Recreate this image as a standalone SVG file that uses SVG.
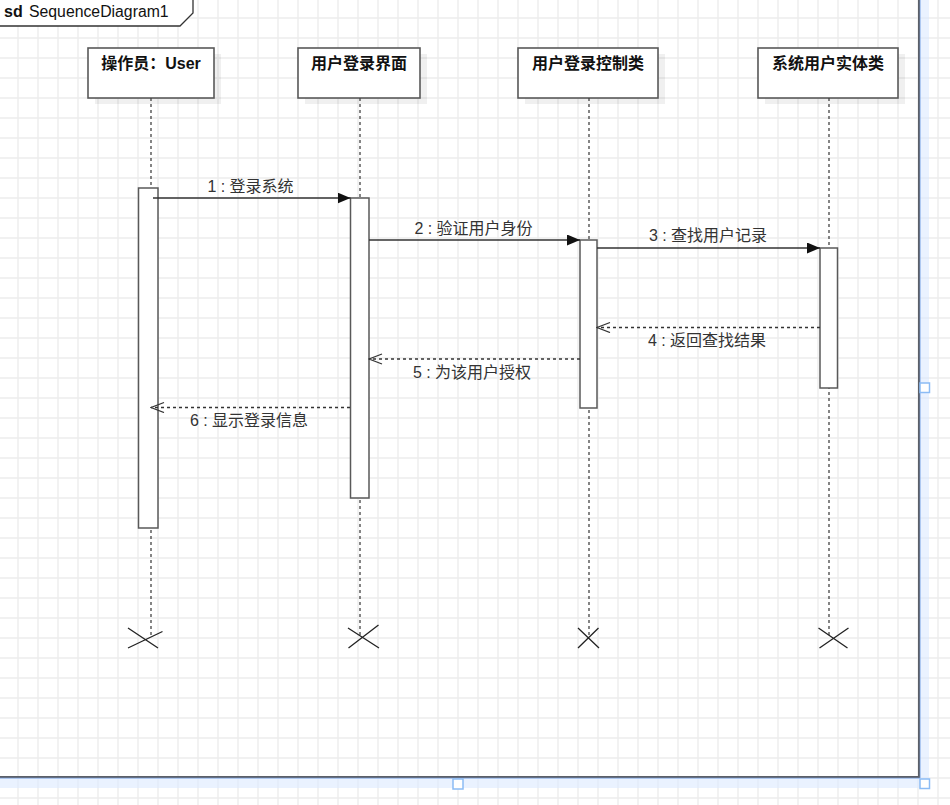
<svg xmlns="http://www.w3.org/2000/svg" width="950" height="805" viewBox="0 0 950 805">
<defs>
<style>
.head{fill:#fff;stroke:#595959;stroke-width:1.6}
.shadow{fill:#000;opacity:0.06}
.htxt{font-family:"Liberation Sans","Noto Sans CJK SC",sans-serif;font-size:16px;font-weight:bold;fill:#111;text-anchor:middle}
.life{stroke:#444;stroke-width:1.3;stroke-dasharray:3 3;fill:none}
.act{fill:#fff;stroke:#595959;stroke-width:1.5}
.xm{stroke:#222;stroke-width:1.3;fill:none}
.msg{stroke:#333;stroke-width:1.5;fill:none}
.ret{stroke:#333;stroke-width:1.3;stroke-dasharray:3 3;fill:none}
.mtxt{font-family:"Liberation Sans","Noto Sans CJK SC",sans-serif;font-size:16px;fill:#333;text-anchor:middle}
.handle{fill:#fff;stroke:#8cbcf5;stroke-width:1.5}
</style>
<pattern id="grid" x="17" y="17" width="20" height="20" patternUnits="userSpaceOnUse">
<path d="M1,0 V20 M0,1 H20" stroke="#ededed" stroke-width="1.4" fill="none"/>
</pattern>
<marker id="filled" markerUnits="userSpaceOnUse" markerWidth="14" markerHeight="12" refX="13" refY="5.5" orient="auto">
<path d="M0,0 L13,5.5 L0,11 Z" fill="#111"/>
</marker>
<marker id="open" markerUnits="userSpaceOnUse" markerWidth="15" markerHeight="12" refX="13.5" refY="5.5" orient="auto">
<path d="M0.5,0.5 L13.5,5.5 L0.5,10.5" fill="none" stroke="#333" stroke-width="1.3"/>
</marker>
</defs>
<rect width="950" height="805" fill="#fff"/>
<rect width="950" height="805" fill="url(#grid)"/>

<g id="frame">
<rect x="920" y="-5" width="9" height="793" fill="#dce9ff" opacity="0.6"/>
<rect x="-5" y="778" width="934" height="10" fill="#dce9ff" opacity="0.6"/>
<rect x="-5" y="-5" width="924" height="782" fill="none" stroke="#5b5f68" stroke-width="2"/>
<line x1="920.2" y1="-5" x2="920.2" y2="778" stroke="#7fa8e6" stroke-width="0.8"/>
<line x1="-5" y1="778.2" x2="920" y2="778.2" stroke="#7fa8e6" stroke-width="0.8"/>
<path d="M-3,-2 L193,-2 L193,13 L180,26 L-3,26 Z" fill="#fff" stroke="#333" stroke-width="1.3"/>
<text x="4" y="17" style="font-family:'Liberation Sans',sans-serif;font-size:16px;fill:#111" font-weight="bold">sd</text>
<text x="29" y="17" style="font-family:'Liberation Sans',sans-serif;font-size:15.8px;fill:#111">SequenceDiagram1</text>
<rect class="handle" x="920" y="383" width="9.5" height="9.5"/>
<rect class="handle" x="453" y="779" width="10" height="10"/>
<rect class="handle" x="920" y="779" width="9.5" height="9.5"/>
</g>

<g id="node-user">
<rect class="shadow" x="95" y="54" width="126" height="50"/>
<rect class="head" x="88" y="48" width="126" height="50"/>
<text class="htxt" x="151" y="69">操作员：User</text>
<line class="life" x1="151" y1="98" x2="151" y2="636"/>
<rect class="act" x="138.5" y="188" width="19.5" height="340"/>
<path class="xm" d="M128,628 L158,648 M162.5,631.5 L128,648"/>
</g>

<g id="node-ui">
<rect class="shadow" x="305" y="54" width="122" height="50"/>
<rect class="head" x="298" y="48" width="122" height="50"/>
<text class="htxt" x="359" y="69">用户登录界面</text>
<line class="life" x1="360" y1="98" x2="360" y2="636"/>
<rect class="act" x="350.5" y="198" width="18.5" height="300"/>
<path class="xm" d="M348,628 L379,648 M378.5,625 L348.5,648"/>
</g>

<g id="node-ctrl">
<rect class="shadow" x="525" y="54" width="140" height="50"/>
<rect class="head" x="518" y="48" width="140" height="50"/>
<text class="htxt" x="588" y="69">用户登录控制类</text>
<line class="life" x1="589" y1="98" x2="589" y2="636"/>
<rect class="act" x="580" y="240" width="17" height="168"/>
<path class="xm" d="M578,628 L599,648 M598.5,628 L578,648"/>
</g>

<g id="node-entity">
<rect class="shadow" x="765" y="54" width="140" height="50"/>
<rect class="head" x="758" y="48" width="140" height="50"/>
<text class="htxt" x="828" y="69">系统用户实体类</text>
<line class="life" x1="829" y1="98" x2="829" y2="636"/>
<rect class="act" x="820" y="248" width="17.5" height="140"/>
<path class="xm" d="M818.5,628 L847.5,648 M848.5,628 L819.5,648"/>
</g>

<g id="connectors">
<line class="msg" x1="153" y1="198" x2="350.5" y2="198" marker-end="url(#filled)"/>
<text class="mtxt" x="250.5" y="191.5">1 : 登录系统</text>
<line class="msg" x1="369" y1="240" x2="580" y2="240" marker-end="url(#filled)"/>
<text class="mtxt" x="473.5" y="233.5">2 : 验证用户身份</text>
<line class="msg" x1="597" y1="248" x2="820" y2="248" marker-end="url(#filled)"/>
<text class="mtxt" x="708" y="241">3 : 查找用户记录</text>
<line class="ret" x1="820" y1="327.5" x2="597" y2="327.5" marker-end="url(#open)"/>
<text class="mtxt" x="707" y="346">4 : 返回查找结果</text>
<line class="ret" x1="580" y1="359" x2="369" y2="359" marker-end="url(#open)"/>
<text class="mtxt" x="472" y="377.5">5 : 为该用户授权</text>
<line class="ret" x1="350" y1="407.5" x2="151" y2="407.5" marker-end="url(#open)"/>
<text class="mtxt" x="249" y="426">6 : 显示登录信息</text>
</g>
</svg>
